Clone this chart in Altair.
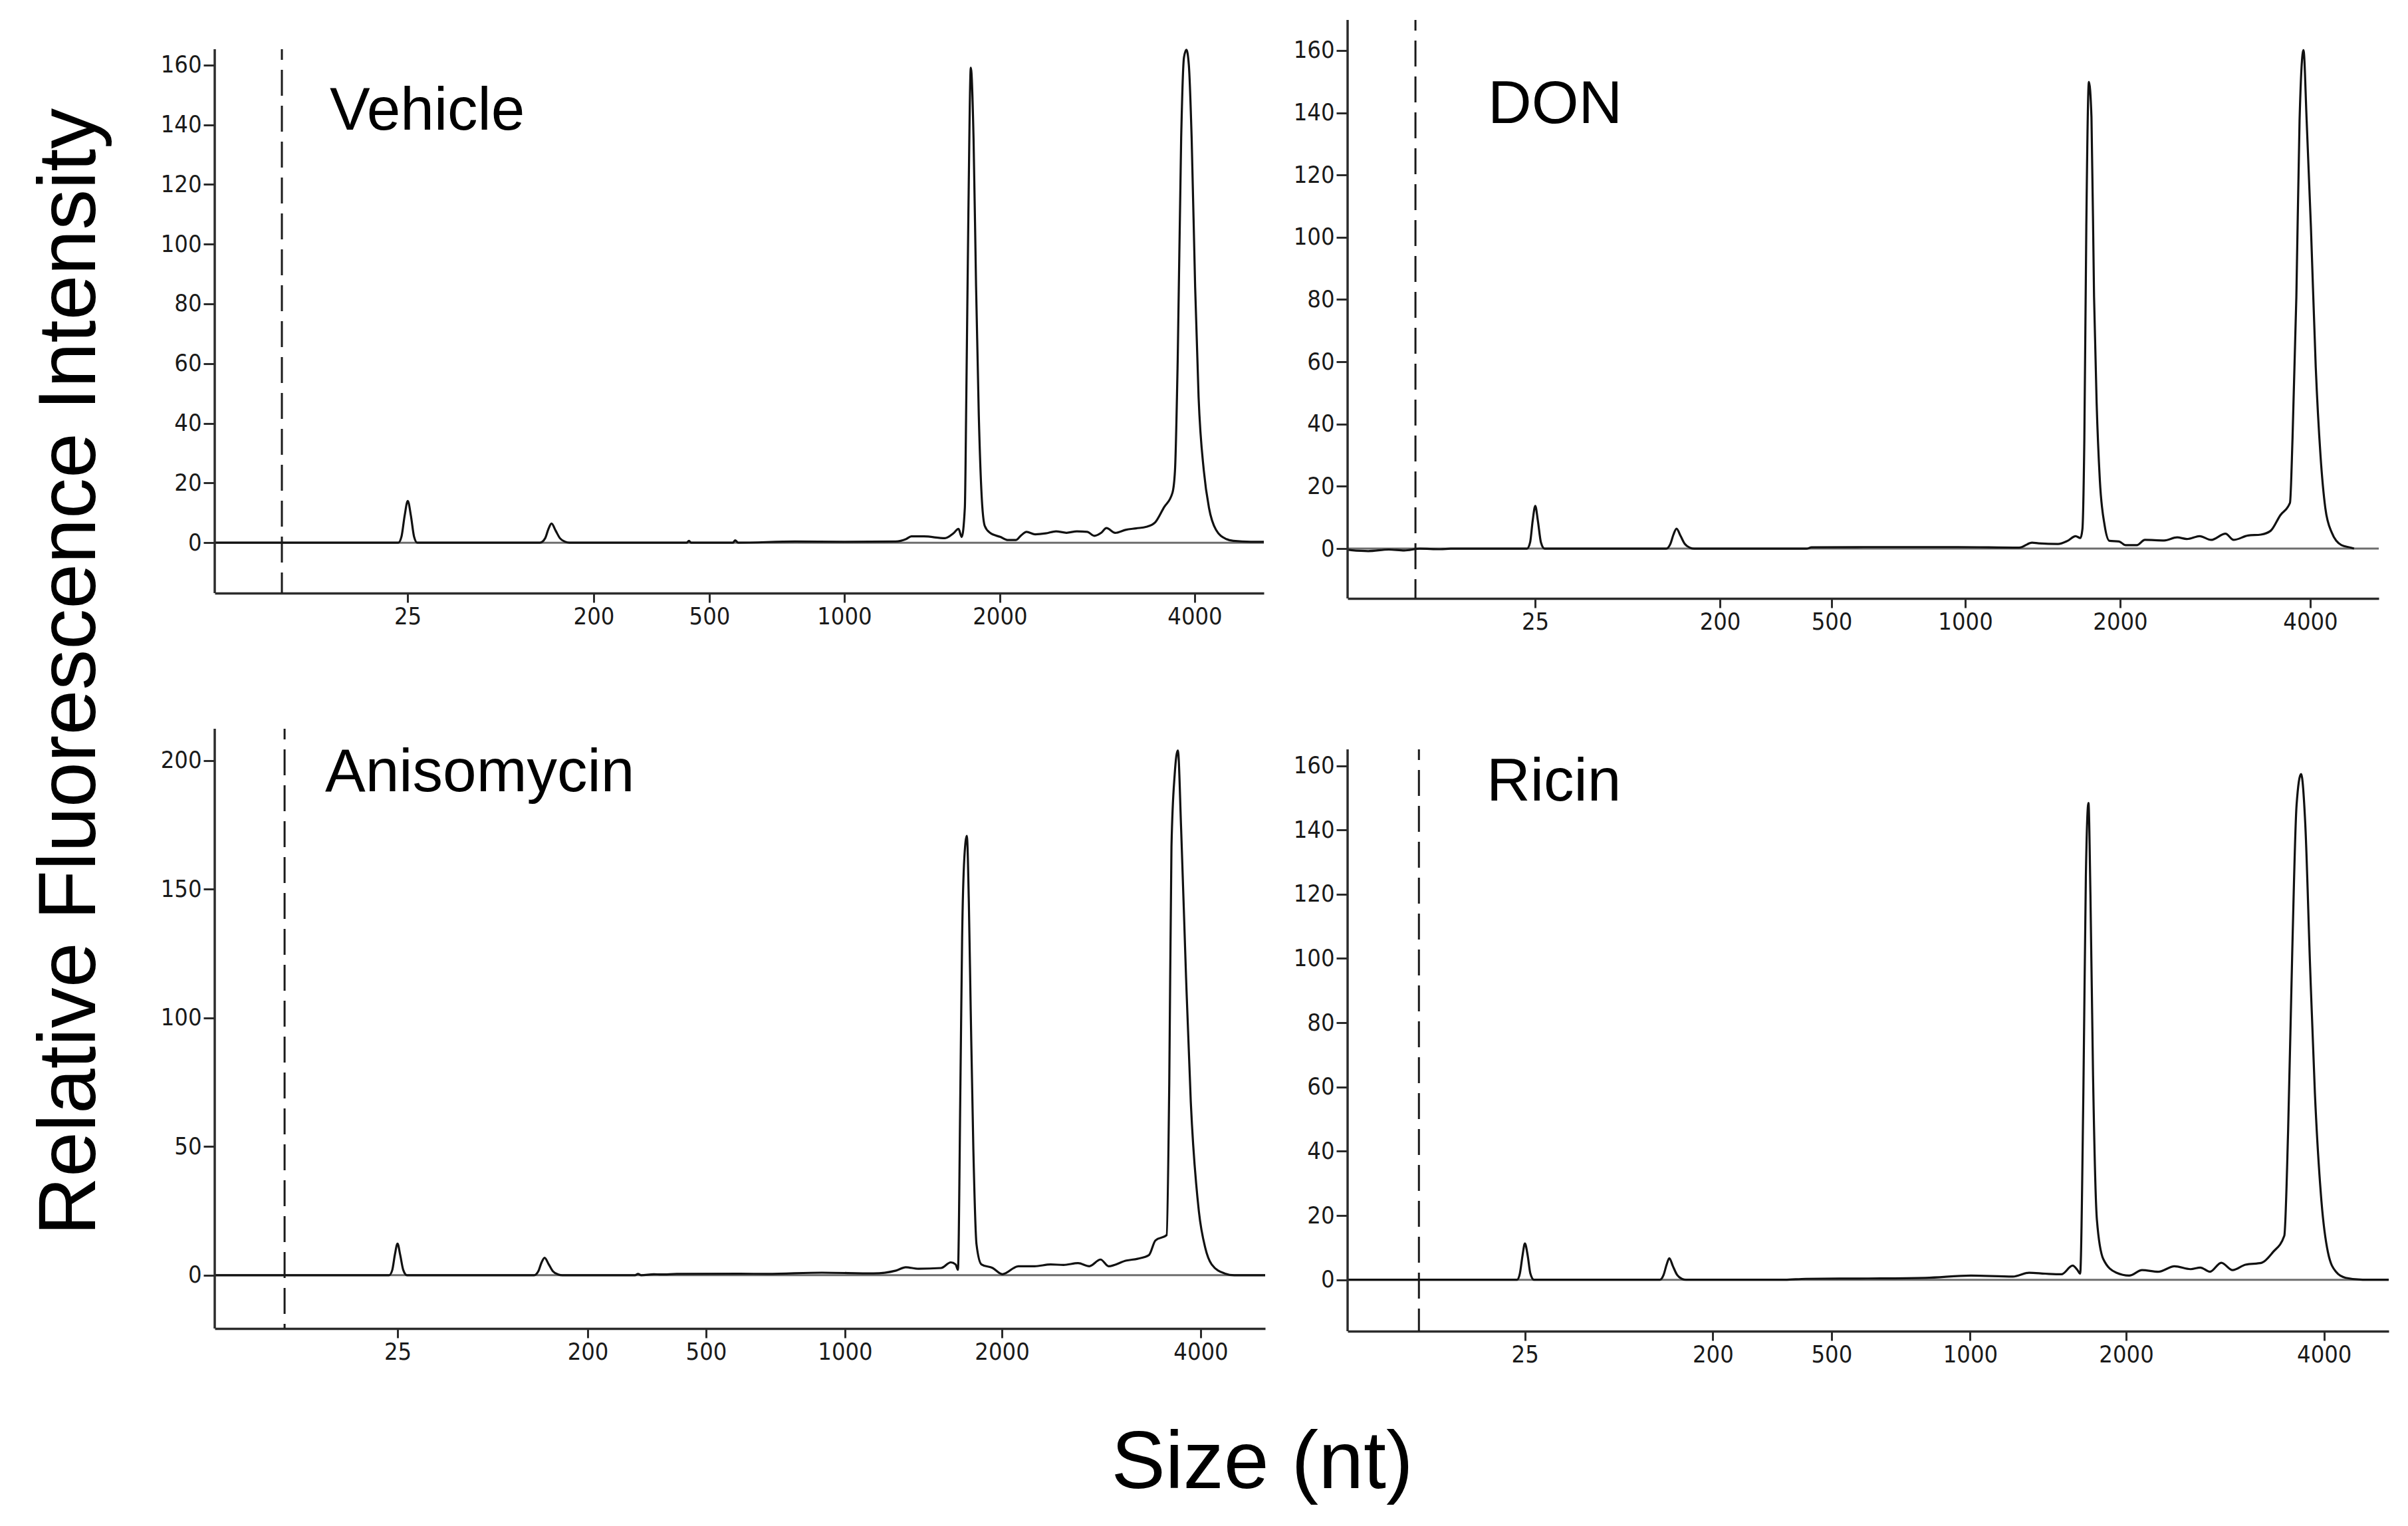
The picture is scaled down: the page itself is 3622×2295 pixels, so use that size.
import altair as alt
import pandas as pd

# ---------------- data (migration position t in % of the time window, RFU) ----------------
size_labels = ["25", "200", "500", "1000", "2000", "4000"]

vehicle_ticks = [18.38, 36.12, 47.15, 60.01, 74.84, 93.41]
don_ticks = [18.18, 36.11, 46.94, 59.90, 74.92, 93.36]
aniso_ticks = [17.41, 35.51, 46.77, 60.00, 74.94, 93.86]
ricin_ticks = [17.03, 35.08, 46.48, 59.80, 74.78, 93.79]

vehicle_dash = [6.40]
don_dash = [6.58]
aniso_dash = [6.65]
ricin_dash = [6.85]

vehicle = [
    (0, 0), (17.5, 0), (17.8, 2), (18.1, 9), (18.4, 14), (18.7, 9), (19.0, 2), (19.3, 0),
    (31.0, 0), (31.5, 1.5), (31.8, 4.5), (32.1, 6.4), (32.5, 4), (32.9, 1.5), (33.4, 0.3), (33.8, 0),
    (45.0, 0), (45.2, 0.6), (45.4, 0), (49.4, 0), (49.6, 0.8), (49.9, 0), (55.3, 0.4), (60.0, 0.3),
    (64.9, 0.4), (65.9, 1.2), (66.4, 2.1), (67.6, 2.1), (69.6, 1.5), (70.4, 3.1), (70.9, 4.6),
    (71.2, 1.9), (71.5, 11.7), (71.64, 48.8), (71.84, 110.7), (72.07, 159.1), (72.33, 135.4),
    (72.57, 85.9), (72.83, 42.7), (73.07, 17.9), (73.4, 5.6), (73.9, 3.3), (74.9, 1.9),
    (75.55, 0.9), (76.38, 0.9), (76.88, 2.5), (77.38, 3.6), (78.2, 2.8), (79.2, 3.1), (80.19, 3.8),
    (81.19, 3.3), (82.18, 3.8), (83.18, 3.6), (83.84, 2.3), (84.5, 3.3), (85.0, 4.9), (85.83, 3.3),
    (86.82, 4.3), (87.82, 4.8), (88.81, 5.3), (89.64, 6.8), (90.46, 11.7), (91.29, 16.7),
    (91.53, 24.1), (91.79, 61.2), (92.12, 135.4), (92.39, 162.6), (92.62, 165.1), (92.85, 160.1),
    (93.12, 135.4), (93.45, 85.9), (93.78, 48.8), (94.28, 24.1), (94.77, 11.7), (95.44, 4.3),
    (96.43, 1.2), (97.09, 0.6), (98.76, 0.3), (100, 0.3),
]

don = [
    (0, -0.4), (2, -0.8), (4, -0.3), (5.5, -0.6), (7, 0), (9, -0.2), (10, 0),
    (17.4, 0), (17.7, 2), (17.95, 9), (18.2, 13.7), (18.45, 9), (18.75, 2), (19.1, 0),
    (30.9, 0), (31.3, 1.5), (31.6, 4.5), (31.9, 6.4), (32.3, 4), (32.7, 1.5), (33.2, 0.3), (33.6, 0),
    (44.5, 0), (45.0, 0.4), (50.0, 0.5), (53.3, 0.5), (59.2, 0.5), (65.13, 0.3), (66.38, 1.9),
    (67.01, 1.7), (68.89, 1.5), (69.82, 2.5), (70.6, 4.0), (71.07, 3.4), (71.26, 6.2), (71.45, 35.6),
    (71.64, 103.5), (71.89, 149.9), (72.14, 138.6), (72.39, 80.9), (72.64, 46.9), (72.95, 22.1),
    (73.42, 7.4), (73.89, 2.5), (74.82, 2.3), (75.45, 1.1), (76.54, 1.1), (77.32, 2.8), (79.2, 2.6),
    (80.45, 3.6), (81.39, 3.1), (82.64, 4.0), (83.73, 2.8), (85.14, 4.8), (85.92, 2.8), (87.32, 4.2),
    (88.57, 4.5), (89.51, 5.7), (90.45, 10.7), (91.39, 14.7), (91.64, 35.6), (92.01, 80.9),
    (92.32, 137.4), (92.7, 160.1), (93.01, 137.4), (93.42, 103.5), (93.89, 58.3), (94.35, 30.0),
    (94.82, 13.0), (95.45, 5.1), (96.39, 1.1), (97.32, 0.3), (97.6, 0),
]

anisomycin = [
    (0, 0), (16.6, 0), (16.9, 2), (17.15, 8), (17.4, 12.3), (17.65, 8), (17.95, 2), (18.3, 0),
    (30.4, 0), (30.8, 1.5), (31.1, 4.8), (31.4, 6.8), (31.8, 4.2), (32.2, 1.5), (32.7, 0.3), (33.1, 0),
    (40.0, 0), (40.3, 0.5), (40.6, 0), (41.8, 0.4), (42.5, 0.3), (44.0, 0.5), (50.0, 0.6), (52.6, 0.5),
    (57.8, 1.0), (62.71, 0.7), (64.86, 1.8), (65.78, 3.1), (67.0, 2.5), (69.15, 2.8), (70.07, 5.0),
    (70.53, 4.2), (70.75, 2.1), (70.99, 74.4), (71.15, 131.0), (71.36, 162.0), (71.6, 170.7),
    (71.79, 145.0), (71.97, 102.7), (72.22, 48.9), (72.52, 12.0), (72.99, 4.2), (74.06, 2.8),
    (74.98, 0.4), (76.51, 3.5), (78.05, 3.5), (79.58, 4.2), (80.81, 4.0), (82.19, 4.7), (83.26, 3.5),
    (84.33, 6.1), (85.1, 3.5), (86.79, 5.7), (87.86, 6.4), (88.93, 7.8), (89.55, 13.5), (90.62, 15.6),
    (90.87, 74.4), (91.08, 166.4), (91.39, 194.7), (91.69, 203.9), (92.0, 173.5), (92.46, 116.8),
    (92.92, 67.3), (93.69, 24.8), (94.3, 10.6), (94.91, 4.2), (96.14, 0.7), (97.06, 0), (100, 0),
]

ricin = [
    (0, 0), (16.3, 0), (16.55, 2), (16.8, 7.5), (17.03, 11.3), (17.3, 7.5), (17.55, 2), (17.9, 0),
    (30.0, 0), (30.35, 1.5), (30.65, 4.8), (30.9, 6.7), (31.25, 4.2), (31.65, 1.5), (32.1, 0.3), (32.5, 0),
    (42.0, 0), (44.0, 0.3), (50.0, 0.4), (55.52, 0.6), (59.87, 1.3), (63.9, 1.0), (65.45, 2.2),
    (67.0, 1.9), (68.56, 1.7), (69.64, 4.4), (70.11, 3.0), (70.36, 1.9), (70.67, 58.0), (70.91, 125.4),
    (71.16, 148.4), (71.35, 119.8), (71.6, 63.6), (71.97, 18.7), (72.59, 6.4), (73.83, 2.2),
    (75.07, 1.3), (76.31, 3.0), (77.87, 2.5), (79.42, 4.2), (80.97, 3.3), (81.9, 3.8), (82.83, 2.5),
    (83.92, 5.3), (85.0, 3.0), (86.24, 4.7), (87.8, 5.3), (88.88, 8.6), (89.97, 13.7), (90.34, 46.8),
    (90.74, 102.9), (91.15, 147.8), (91.58, 157.4), (91.98, 142.2), (92.45, 97.3), (92.91, 58.0),
    (93.54, 24.4), (94.16, 8.6), (94.93, 2.5), (95.86, 0.6), (97.5, 0), (100, 0),
]

ticks_160 = [0, 20, 40, 60, 80, 100, 120, 140, 160]
ticks_200 = [0, 50, 100, 150, 200]

FONT = "Liberation Sans, Arial, Helvetica, sans-serif"
TICKFONT = "Liberation Sans Narrow, Arial Narrow, DejaVu Sans Condensed, Liberation Sans, sans-serif"
AXIS_COLOR = "#2b2b2b"


def panel(name, pts, ticks, dash, ymin, ytop, yview_top, yticks, width, height, label_x, label_y,
          ytitle=None, xtitle=None):
    """ymin..ytop is the framed (axis-line) range; yview_top may leave free room above the frame."""
    df = pd.DataFrame(pts, columns=["t", "rfu"])
    label_expr = ("[" + ",".join("'%s'" % s for s in size_labels) + "][indexof(["
                  + ",".join(str(v) for v in ticks) + "], datum.value)]")
    xaxis = dict(values=ticks, labelExpr=label_expr, grid=False, domainColor=AXIS_COLOR,
                 domainWidth=3.5, tickColor=AXIS_COLOR, tickWidth=3, tickSize=14,
                 labelFont=TICKFONT, labelFontSize=36, labelColor="#1a1a1a", labelPadding=4,
                 title=xtitle)
    if xtitle:
        xaxis.update(titleFont=FONT, titleFontSize=122, titleFontWeight="normal", titleColor="black",
                     titleX=1575, titleY=239, titleAlign="center", titleBaseline="alphabetic",
                     titleAngle=0)
    yaxis = dict(values=yticks, grid=False, domain=False, tickColor=AXIS_COLOR, tickWidth=3,
                 tickSize=17, labelFont=TICKFONT, labelFontSize=36, labelColor="#1a1a1a",
                 labelPadding=3, title=ytitle)
    if ytitle:
        yaxis.update(titleFont=FONT, titleFontSize=122, titleFontWeight="normal", titleColor="black",
                     titleX=-181, titleY=980, titleAlign="center", titleBaseline="alphabetic",
                     titleAngle=270)
    xs = alt.Scale(domain=[0, 100], nice=False, zero=False)
    ys = alt.Scale(domain=[ymin, yview_top], nice=False, zero=False)

    frame_df = pd.DataFrame({"t": [0], "lo": [ymin], "hi": [ytop]})
    dash_df = pd.DataFrame({"t": dash, "lo": [ymin], "hi": [ytop]})
    label_df = pd.DataFrame({"label": [name]})

    zero = alt.Chart(pd.DataFrame({"rfu": [0]})).mark_rule(color="#6e6e6e", strokeWidth=3).encode(
        y=alt.Y("rfu:Q", scale=ys, axis=alt.Axis(**yaxis)))
    line = alt.Chart(df).mark_line(color="#111111", strokeWidth=3.2, interpolate="monotone").encode(
        x=alt.X("t:Q", scale=xs, axis=alt.Axis(**xaxis)),
        y=alt.Y("rfu:Q", scale=ys))
    yline = alt.Chart(frame_df).mark_rule(color=AXIS_COLOR, strokeWidth=3.5).encode(
        x=alt.X("t:Q", scale=xs), y=alt.Y("lo:Q", scale=ys), y2="hi:Q")
    dashed = alt.Chart(dash_df).mark_rule(
        color="#1a1a1a", strokeWidth=3, strokeDash=[39, 15], strokeDashOffset=23).encode(
        x=alt.X("t:Q", scale=xs), y=alt.Y("hi:Q", scale=ys), y2="lo:Q")
    label = alt.Chart(label_df).mark_text(
        align="left", baseline="alphabetic", fontSize=91, font=FONT, color="black").encode(
        x=alt.value(label_x), y=alt.value(label_y), text="label:N")
    return alt.layer(zero, line, yline, dashed, label).properties(width=width, height=height)


# Vehicle: 44 px of free room above its frame; Ricin: 31 px (panels sit at different heights)
tl = panel("Vehicle", vehicle, vehicle_ticks, vehicle_dash, -16.9, 165.3, 175.1, ticks_160,
           1578, 862, 173, 165, ytitle="Relative Fluorescence Intensity")
tr = panel("DON", don, don_ticks, don_dash, -16.0, 169.8, 169.8, ticks_160, 1551, 870, 211, 155)
bl = panel("Anisomycin", anisomycin, aniso_ticks, aniso_dash, -20.7, 212.3, 212.3, ticks_200,
           1580, 902, 166, 94, xtitle="Size (nt)")
br = panel("Ricin", ricin, ricin_ticks, ricin_dash, -16.0, 165.1, 171.5, ticks_160,
           1566, 906, 209, 108)

chart = alt.concat(
    tl, tr, bl, br,
    columns=2, bounds="flush", spacing={"row": 196, "column": 124},
).properties(
    padding={"left": 35, "top": 20, "right": 10, "bottom": 10},
    background="white",
).configure_view(strokeWidth=0)

chart.save("out.html", embed_options={"renderer": "svg", "actions": False})
